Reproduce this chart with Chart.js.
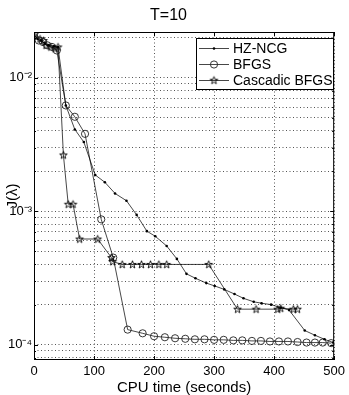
<!DOCTYPE html>
<html>
<head>
<meta charset="utf-8">
<script src="https://cdn.jsdelivr.net/npm/chart.js@4"></script>
<style>
html,body{margin:0;padding:0;background:#fff}
#wrap{width:349px;height:395px}
</style>
</head>
<body>
<div id="wrap"><canvas id="c" width="349" height="395"></canvas></div>
<script>
// values (x = CPU seconds, y = J(lambda))
const names = ['HZ-NCG', 'BFGS', 'Cascadic BFGS'];

const hzX = [0, 6, 12, 18, 24, 33, 40, 53, 68, 83, 102, 118, 135, 154, 171, 188, 202, 221, 238, 254, 269, 287, 301, 317, 334, 349, 366, 379, 395, 411, 425, 451, 468, 484, 498];
const hzY = [0.021, 0.0195, 0.019, 0.018, 0.0175, 0.0172, 0.017, 0.0062, 0.0041, 0.0033, 0.00187, 0.00165, 0.00136, 0.0012, 0.00094, 0.00071, 0.00065, 0.00055, 0.00044, 0.00034, 0.000315, 0.00029, 0.000276, 0.00026, 0.00024, 0.000223, 0.00021, 0.000205, 0.0002, 0.00019, 0.000182, 0.000128, 0.000118, 0.00011, 0.000104];

const bfX = [0, 8, 15, 22, 30, 38, 53, 68, 85, 112, 132, 156, 181, 200, 218, 235, 252, 268, 284, 300, 316, 332, 347, 363, 378, 393, 408, 423, 439, 454, 468, 481, 495];
const bfY = [0.021, 0.019, 0.0185, 0.0175, 0.017, 0.016, 0.0062, 0.0051, 0.0038, 0.00087, 0.00045, 0.00013, 0.000122, 0.000116, 0.000114, 0.000112, 0.000111, 0.00011, 0.00011, 0.000109, 0.000109, 0.000108, 0.000108, 0.000107, 0.000107, 0.000106, 0.000106, 0.000106, 0.000105, 0.000104, 0.000104, 0.000104, 0.000103];

const cbX = [2, 10, 16, 20, 28, 35, 40, 49, 57, 65, 76, 106, 129, 131, 147, 164, 179, 194, 208, 221, 291, 339, 370, 406, 411, 432, 439];
const cbY = [0.0215, 0.0195, 0.019, 0.0175, 0.017, 0.0165, 0.017, 0.00264, 0.00113, 0.00113, 0.00062, 0.00062, 0.00045, 0.00042, 0.0004, 0.0004, 0.0004, 0.0004, 0.0004, 0.0004, 0.0004, 0.000185, 0.000185, 0.000185, 0.000188, 0.000185, 0.000185];

const xTicks = [0, 100, 200, 300, 400, 500];
const yTicks = [8e-5, 9e-5, 1e-4, 2e-4, 3e-4, 4e-4, 5e-4, 6e-4, 7e-4, 8e-4, 9e-4,
  1e-3, 2e-3, 3e-3, 4e-3, 5e-3, 6e-3, 7e-3, 8e-3, 9e-3, 1e-2, 2e-2];

const sup = {'-': '\u207B', '0': '\u2070', '1': '\u00B9', '2': '\u00B2', '3': '\u00B3', '4': '\u2074', '5': '\u2075'};
function isDecade(v){ const l = Math.log10(v); return Math.abs(l - Math.round(l)) < 1e-6; }
function powLabel(v){ return '10' + String(Math.round(Math.log10(v))).split('').map(c => sup[c]).join(''); }

// little pentagram marker like matlab's 'p'
function starMarker(){
  const cv = document.createElement('canvas'); cv.width = 11; cv.height = 11;
  const g = cv.getContext('2d');
  g.beginPath();
  for(let i=0;i<10;i++){
    const r = i%2 ? 1.6 : 4.0, a = -Math.PI/2 + i*Math.PI/5;
    const px = 5.5 + r*Math.cos(a), py = 5.8 + r*Math.sin(a);
    i ? g.lineTo(px,py) : g.moveTo(px,py);
  }
  g.closePath(); g.strokeStyle = '#000'; g.lineWidth = 0.9; g.stroke();
  return cv;
}
const star = starMarker();

const lineCol = 'rgba(0,0,0,0.72)';
const sets = [
  {label:names[0], data:hzX.map((x,i)=>({x, y:hzY[i]})), borderColor:lineCol, borderWidth:1,
   pointStyle:'circle', pointRadius:1.3, pointBackgroundColor:'#000', pointBorderWidth:0},
  {label:names[1], data:bfX.map((x,i)=>({x, y:bfY[i]})), borderColor:lineCol, borderWidth:1,
   pointStyle:'circle', pointRadius:3.6, pointBackgroundColor:'rgba(0,0,0,0)', pointBorderColor:'#222', pointBorderWidth:0.9},
  {label:names[2], data:cbX.map((x,i)=>({x, y:cbY[i]})), borderColor:lineCol, borderWidth:1,
   pointStyle:star, pointRadius:4}
];

const frame = {
  id:'frame',
  afterDraw(chart){
    const {ctx, chartArea:a, scales:{x, y}} = chart;
    ctx.save();
    ctx.strokeStyle = '#000'; ctx.lineWidth = 1;
    ctx.strokeRect(a.left+0.5, a.top+0.5, a.right-a.left-1, a.bottom-a.top-1);
    ctx.beginPath();
    x.ticks.forEach(t => {
      const p = Math.round(x.getPixelForValue(t.value)) + 0.5;
      ctx.moveTo(p, a.bottom); ctx.lineTo(p, a.bottom-4);
      ctx.moveTo(p, a.top); ctx.lineTo(p, a.top+4);
    });
    y.ticks.forEach(t => {
      const p = Math.round(y.getPixelForValue(t.value)) + 0.5, L = isDecade(t.value) ? 4 : 2;
      ctx.moveTo(a.left, p); ctx.lineTo(a.left+L, p);
      ctx.moveTo(a.right, p); ctx.lineTo(a.right-L, p);
    });
    ctx.stroke();

    // legend box, top right inside the axes
    const bx = 196, by = 38, bw = 137, bh = 51;
    ctx.fillStyle = '#fff'; ctx.fillRect(bx, by, bw, bh);
    ctx.strokeRect(bx+0.5, by+0.5, bw, bh);
    ctx.font = '14px "Liberation Sans", Arial, sans-serif';
    ctx.textBaseline = 'middle';
    chart.data.datasets.forEach((d, i) => {
      const ly = by + 10.5 + i*16;
      ctx.strokeStyle = lineCol; ctx.lineWidth = 1;
      ctx.beginPath(); ctx.moveTo(bx+3, ly); ctx.lineTo(bx+33, ly); ctx.stroke();
      const mx = bx+18;
      if(i === 0){ ctx.fillStyle = '#000'; ctx.beginPath(); ctx.arc(mx, ly, 1.3, 0, 2*Math.PI); ctx.fill(); }
      else if(i === 1){ ctx.strokeStyle = '#222'; ctx.lineWidth = 0.9; ctx.beginPath(); ctx.arc(mx, ly, 3.6, 0, 2*Math.PI); ctx.stroke(); }
      else ctx.drawImage(star, mx-5.5, ly-5.8);
      ctx.fillStyle = '#000';
      ctx.fillText(d.label, bx+37, ly+0.5);
    });
    ctx.restore();
  }
};

const gridOpts = {color:'#555', lineWidth:1, drawTicks:false};
const borderOpts = {display:false, dash:[1,2.5]};
const font = '"Liberation Sans", Arial, sans-serif';

new Chart(document.getElementById('c'), {
  type:'line',
  data:{datasets:sets},
  plugins:[frame],
  options:{
    responsive:false, animation:false, devicePixelRatio:1,
    layout:{padding:{left:0, right:12, top:0, bottom:0}},
    elements:{line:{tension:0}},
    plugins:{
      legend:{display:false}, tooltip:{enabled:false},
      title:{display:true, text:'T=10', color:'#000',
        font:{family:font, size:16, weight:'normal', lineHeight:1},
        padding:{top:8, bottom:8}}
    },
    scales:{
      x:{type:'linear', min:0, max:500,
        afterBuildTicks(s){ s.ticks = xTicks.map(v => ({value:v})); },
        afterFit(s){ s.height = 35; },
        grid:gridOpts, border:borderOpts,
        ticks:{color:'#000', padding:4, font:{family:font, size:13}},
        title:{display:true, text:'CPU time (seconds)', color:'#000', padding:{top:0, bottom:0},
          font:{family:font, size:15, lineHeight:1}}
      },
      y:{type:'logarithmic', min:7.7e-5, max:0.022,
        afterBuildTicks(s){ s.ticks = yTicks.map(v => ({value:v})); },
        afterFit(s){ s.width = 34; },
        grid:gridOpts, border:borderOpts,
        ticks:{color:'#000', padding:2, autoSkip:false, font:{family:font, size:13},
          callback:v => isDecade(v) ? powLabel(v) : ''},
        title:{display:true, text:'J(\u03BB)', color:'#000', padding:{top:5.5, bottom:0},
          font:{family:font, size:15, lineHeight:1}}
      }
    }
  }
});
</script>
</body>
</html>
